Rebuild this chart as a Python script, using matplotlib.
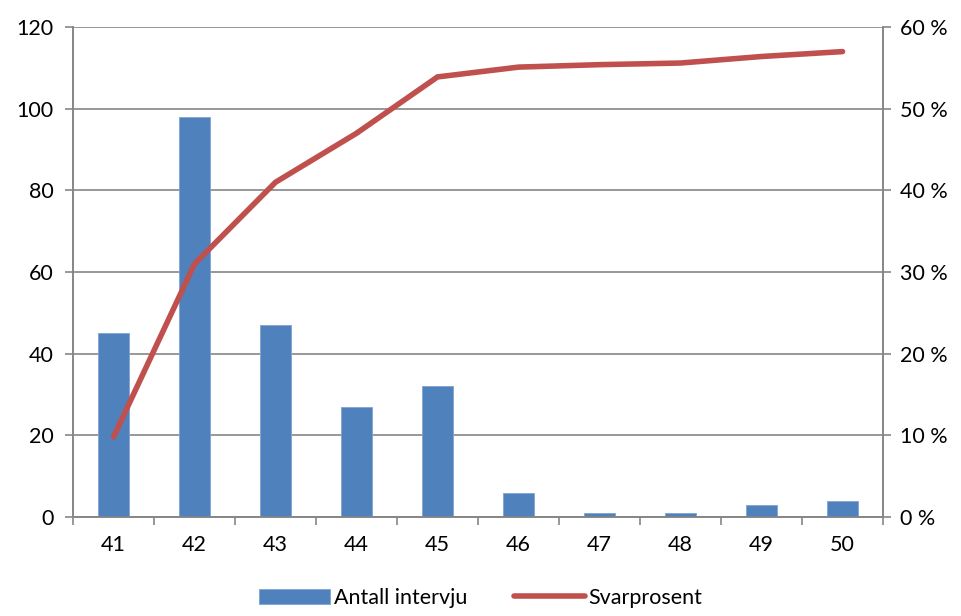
import numpy as np
import matplotlib
matplotlib.use("Agg")
import matplotlib.pyplot as plt
from matplotlib.ticker import FixedLocator, FuncFormatter

# Data
categories = ["41", "42", "43", "44", "45", "46", "47", "48", "49", "50"]
antall_intervju = [45, 98, 47, 27, 32, 6, 1, 1, 3, 4]
svarprosent = [9.8, 31.0, 41.0, 47.0, 53.9, 55.1, 55.4, 55.6, 56.4, 57.0]

plt.rcParams['font.family'] = ['Lato', 'DejaVu Sans']

grey = '#868686'
blue = '#4f81bd'
red = '#c0504d'

fig = plt.figure(figsize=(9.62, 6.16), dpi=100)
ax = fig.add_axes([0.0759, 0.1607, 0.842, 0.7953])
ax2 = ax.twinx()

x = np.arange(len(categories))
bars = ax.bar(x, antall_intervju, width=0.39, color=blue, edgecolor='#7fa3d1',
              linewidth=0.6, zorder=3, label='Antall intervju')
line, = ax2.plot(x, svarprosent, color=red, linewidth=4, solid_capstyle='round',
                 solid_joinstyle='miter', zorder=4, label='Svarprosent')

ax.set_xlim(-0.5, len(categories) - 0.5)
ax.set_ylim(0, 120)
ax.set_yticks(range(0, 121, 20))
ax2.set_ylim(0, 60)
ax2.set_yticks(range(0, 61, 10))
ax2.yaxis.set_major_formatter(FuncFormatter(lambda v, p: f"{int(v)} %"))

ax.set_xticks(x)
ax.set_xticklabels(categories)
ax.xaxis.set_minor_locator(FixedLocator(np.arange(-0.5, len(categories), 1.0)))
ax.tick_params(axis='x', which='major', length=0, pad=13, labelsize=15.5)
ax.tick_params(axis='x', which='minor', length=6, width=1.2, color=grey, direction='out')
ax.tick_params(axis='y', length=6, width=1.2, color=grey, direction='out', labelsize=15.5, pad=8)
ax2.tick_params(axis='y', length=6, width=1.2, color=grey, direction='out', labelsize=15.5, pad=6)

ax.grid(axis='y', color=grey, linewidth=1.2, zorder=0)
ax.set_axisbelow(True)

for a in (ax, ax2):
    for s in a.spines.values():
        s.set_color(grey)
        s.set_linewidth(1.2)
    a.spines['top'].set_visible(False)

ax2.set_zorder(ax.get_zorder() + 1)
ax2.patch.set_visible(False)

fig.legend([bars, line], ['Antall intervju', 'Svarprosent'], loc='lower center',
           bbox_to_anchor=(0.5, -0.018), ncol=2, frameon=False, fontsize=15.5,
           handlelength=3.3, handletextpad=0.15, columnspacing=2.2)

fig.savefig("out.png", dpi=100)
